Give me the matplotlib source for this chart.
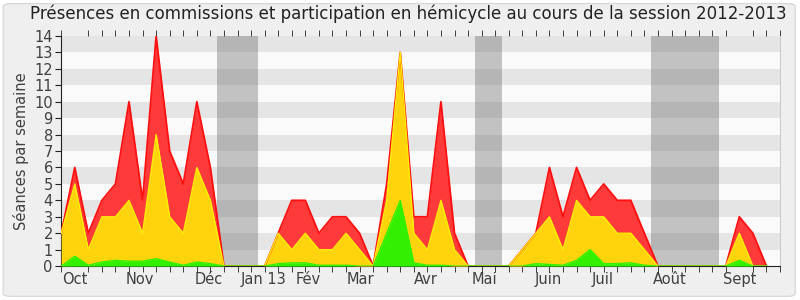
#Presence chart: commissions / hemicycle, session 2012-2013

import numpy as np
import matplotlib.pyplot as plt
from matplotlib.patches import FancyBboxPatch

#weekly values (cumulative tops of each stacked layer)
weeks = np.arange(53)
green_top = [0, 0.6, 0.05, 0.25, 0.35, 0.3, 0.3, 0.45, 0.25, 0.05, 0.25, 0.15, 0,
             0, 0, 0, 0.15, 0.2, 0.2, 0.05, 0.05, 0.05, 0, 0, 2, 4, 0.2,
             0.05, 0.05, 0, 0, 0, 0, 0, 0, 0.15, 0.1, 0.05, 0.35, 1, 0.15,
             0.15, 0.2, 0.05, 0, 0, 0, 0, 0, 0, 0.35, 0, 0]
yellow_top = [2, 5, 1, 3, 3, 4, 2, 8, 3, 2, 6, 4, 0,
              0, 0, 0, 2, 1, 2, 1, 1, 2, 1, 0, 4, 13, 2,
              1, 4, 1, 0, 0, 0, 0, 1, 2, 3, 1, 4, 3, 3,
              2, 2, 1, 0, 0, 0, 0, 0, 0, 2, 0, 0]
red_top = [2, 6, 2, 4, 5, 10, 4, 14, 7, 5, 10, 6, 0,
           0, 0, 0, 2, 4, 4, 2, 3, 3, 2, 0, 5, 13, 3,
           3, 10, 2, 0, 0, 0, 0, 1, 2, 6, 3, 6, 4, 5,
           4, 4, 2, 0, 0, 0, 0, 0, 0, 3, 2, 0]

#holiday periods (in weeks)
holidays = [(11.5, 14.5), (30.5, 32.5), (43.5, 48.5)]

#month labels
month_pos = [1, 5.8, 10.9, 14.9, 18.2, 22.1, 26.9, 31.2, 35.9, 39.9, 44.9, 50]
month_lab = ["Oct", "Nov", "Déc", "Jan 13", "Fév", "Mar", "Avr", "Mai",
             "Juin", "Juil", "Août", "Sept"]

fig = plt.figure(figsize=(8, 3), dpi=100, facecolor="white")
border = FancyBboxPatch((0.004, 0.012), 0.99, 0.976,
                        boxstyle="round,pad=0,rounding_size=0.01",
                        transform=fig.transFigure, facecolor="#efefef",
                        edgecolor="#d9d9d9", linewidth=1, zorder=-10)
fig.patches.append(border)
ax = fig.add_axes([0.0765, 0.113, 0.8985, 0.767])
ax.set_facecolor("#fafafa")

#horizontal stripes
for k in range(1, 14, 2):
    ax.axhspan(k, k + 1, color="#e5e5e5", zorder=0, linewidth=0)

#holidays
for a, b in holidays:
    ax.axvspan(a, b, color="#6e6e6e", alpha=0.4, zorder=1, linewidth=0)

#stacked areas
zero = np.zeros(len(weeks))
ax.fill_between(weeks, yellow_top, red_top, color="#ff3a3a", linewidth=0, zorder=2)
ax.fill_between(weeks, green_top, yellow_top, color="#ffd40c", linewidth=0, zorder=3)
ax.fill_between(weeks, zero, green_top, color="#33f000", linewidth=0, zorder=4)
ax.plot(weeks, red_top, color="#ff1010", linewidth=1.3, zorder=5)
ax.plot(weeks, yellow_top, color="#ffee00", linewidth=1, zorder=6)
ax.plot(weeks, green_top, color="#33f000", linewidth=1, zorder=7)

ax.set_xlim(0, 53)
ax.set_ylim(0, 14)
ax.set_yticks(range(15))
ax.set_xticks(month_pos)
ax.set_xticklabels(month_lab)
ax.set_xticks(range(54), minor=True)
ax.tick_params(axis="x", which="major", length=0, labelsize=10.5, colors="#404040", pad=4)
ax.tick_params(axis="x", which="minor", length=4, color="#222222", top=True, direction="out")
ax.tick_params(axis="y", length=4, labelsize=10.5, colors="#404040", pad=2)
ax.tick_params(axis="y", color="#222222")

ax.spines["top"].set_visible(False)
ax.spines["right"].set_color("#cccccc")
ax.spines["left"].set_color("#222222")
ax.spines["bottom"].set_color("#222222")

ax.set_ylabel("Séances par semaine", fontsize=10.5, color="#404040")
fig.text(0.511, 0.955,
         "Présences en commissions et participation en hémicycle au cours de la session 2012-2013",
         fontsize=12, color="#222222", ha="center", va="center")

plt.savefig("out.png", dpi=100, facecolor=fig.get_facecolor())
